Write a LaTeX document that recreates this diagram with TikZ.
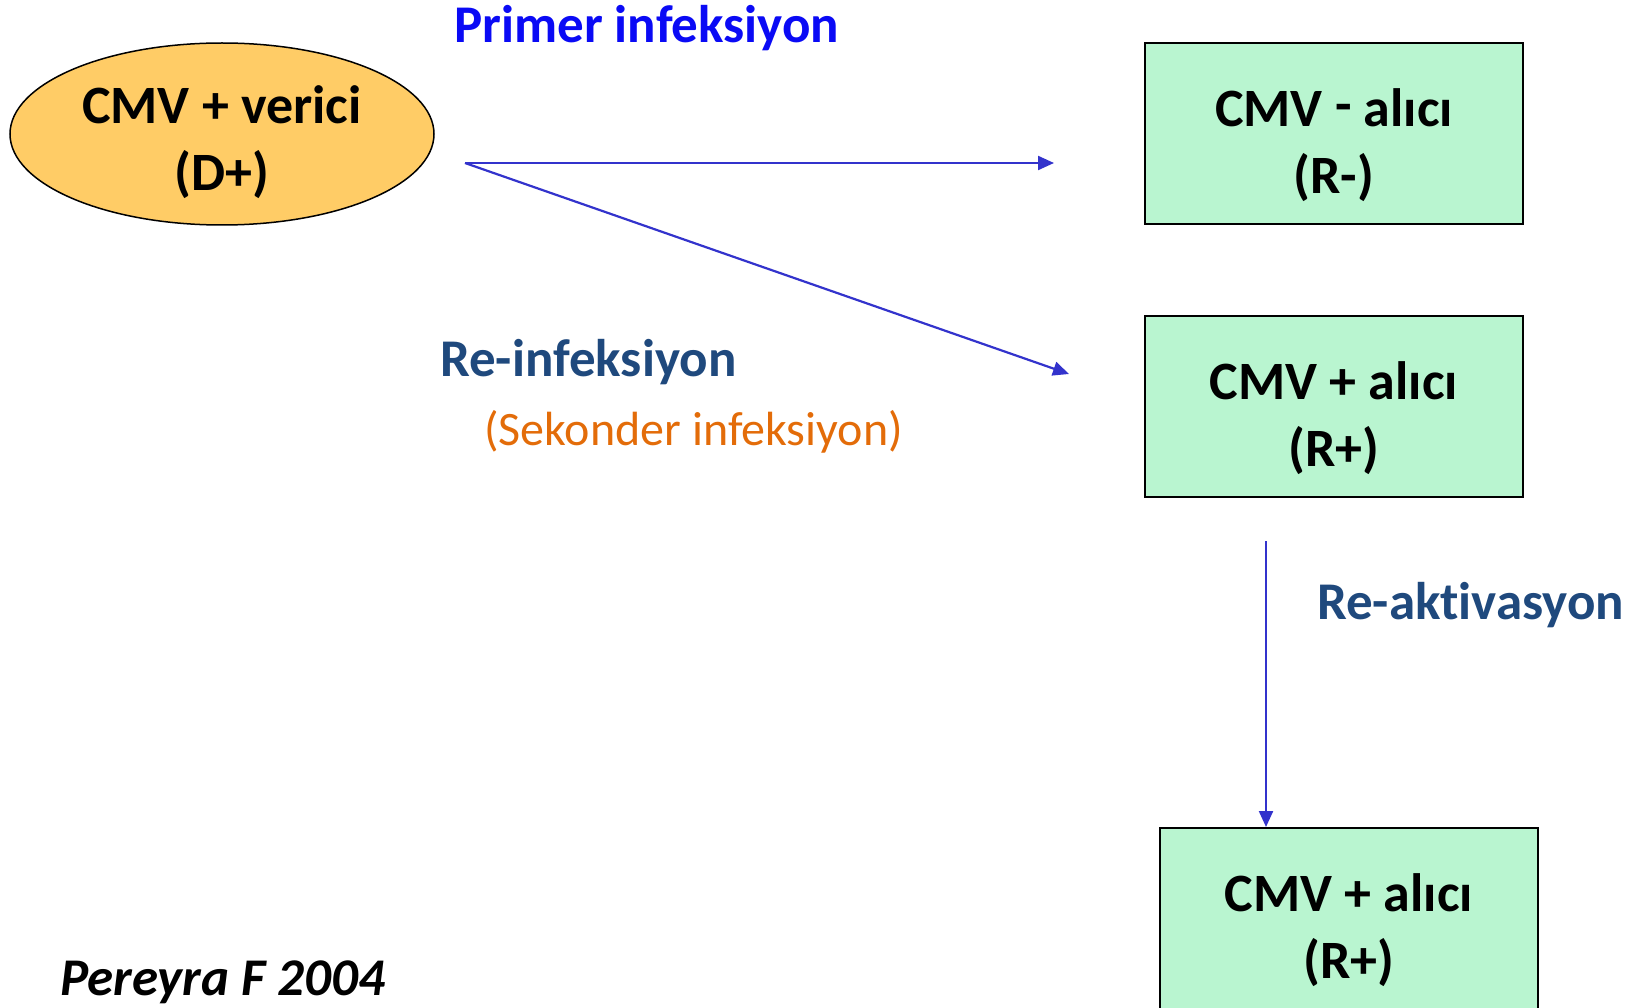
\documentclass[tikz,border=0pt]{standalone}
\usepackage{fontspec}
\setmainfont{Carlito}[Ligatures=NoCommon]
\usetikzlibrary{arrows.meta,shapes.geometric}

\definecolor{donorfill}{HTML}{FFCC66}
\definecolor{recipfill}{HTML}{B9F5D0}
\definecolor{flowblue}{HTML}{3333CC}
\definecolor{primblue}{HTML}{0A0AF5}
\definecolor{reblue}{HTML}{1F497D}
\definecolor{sekorange}{HTML}{E36C09}

\tikzset{
  donor/.style={ellipse, draw, line width=1.5pt, fill=donorfill, minimum width=424pt,
    minimum height=182pt, align=center, text height=114pt, text depth=0pt,
    font=\bfseries\fontsize{54}{67}\selectfont},
  recip/.style={rectangle, draw, line width=2pt, fill=recipfill, minimum width=378pt,
    minimum height=181pt, align=center, text height=120pt, text depth=0pt,
    font=\bfseries\fontsize{54}{67}\selectfont},
  flow/.style={flowblue, line width=2.2pt, -{Triangle[length=16pt,width=14pt]}},
  note/.style={anchor=base west, inner sep=0pt, font=\bfseries\fontsize{53}{64}\selectfont}
}

\begin{document}
\begin{tikzpicture}[x=1pt, y=-1pt]
    \useasboundingbox (0,0) rectangle (1630,1008);
    \clip (0,0) rectangle (1630,1008);
    % donor and recipients
    \node[donor] (donor) at (222,134) {CMV + verici\\(D+)};
    \node[recip] (rneg) at (1334,133.5) {CMV \raisebox{0.08em}{-} alıcı\\(R-)};
    \node[recip] (rpos) at (1334,406) {CMV + alıcı\\(R+)};
    \node[recip] (ract) at (1349,918.5) {CMV + alıcı\\(R+)};
    % arrow ends
    \coordinate (src) at (465,163);
    \coordinate (primend) at (1054,163);
    \coordinate (reinfend) at (1069,374);
    \coordinate (reactstart) at (1266,541);
    \draw[flow] (src) -- (primend);
    \draw[flow] (src) -- (reinfend);
    \draw[flow] (reactstart) -- (reactstart |- ract.north);
    % labels
    \node[note, text=primblue] (primer) at (454,43) {Primer infeksiyon};
    \node[note, text=reblue] (reinf) at (440,376) {Re-infeksiyon};
    \node[note, text=sekorange, font=\fontsize{48}{58}\selectfont] (sekonder) at (484,445) {(Sekonder infeksiyon)};
    \node[note, text=reblue] (react) at (1317,619) {Re-aktivasyon};
    \node[note, font=\bfseries\itshape\fontsize{53}{64}\selectfont] (ref) at (60,995) {Pereyra F 2004};
\end{tikzpicture}
\end{document}
